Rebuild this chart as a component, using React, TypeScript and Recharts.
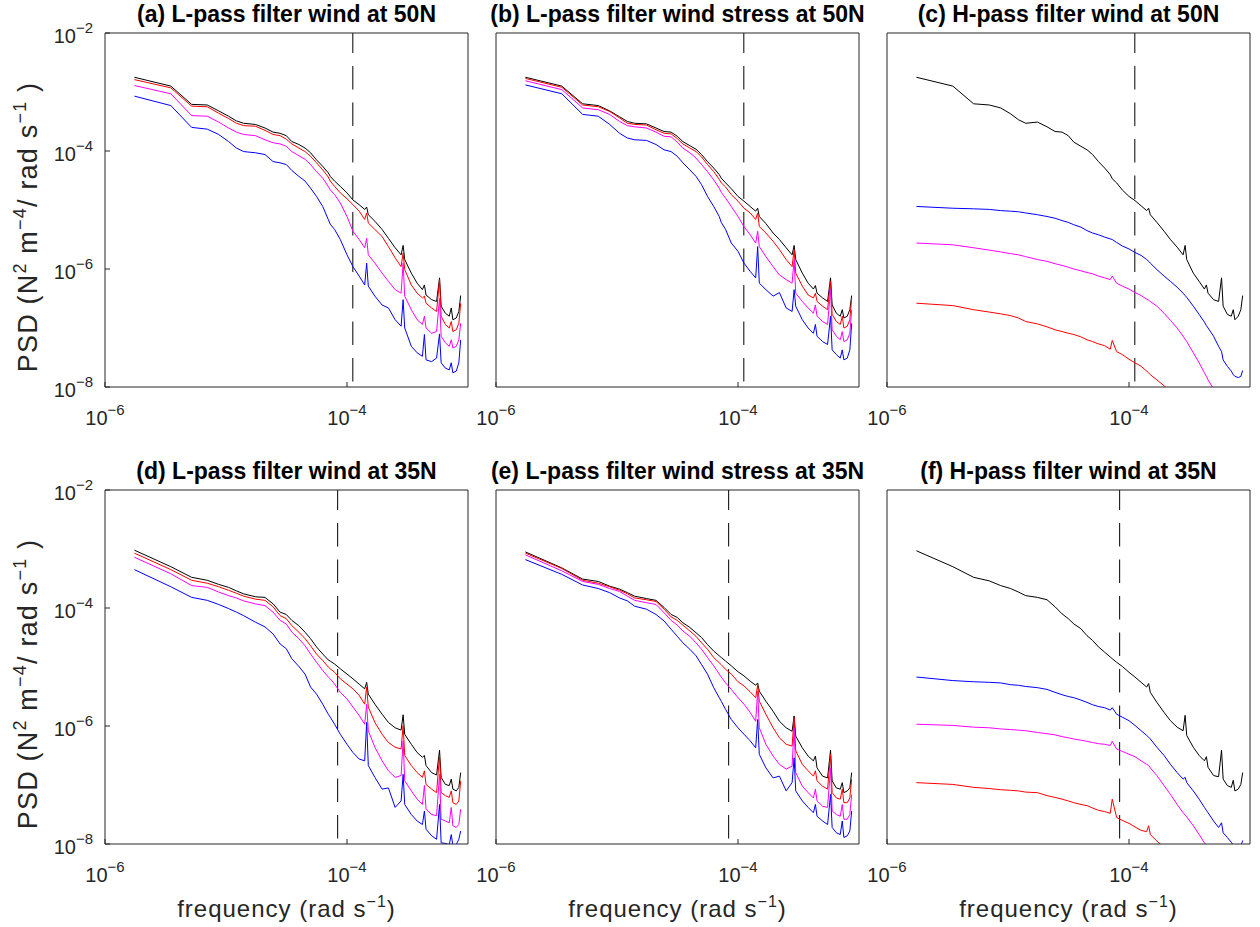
import React from "react";
import { LineChart, Line, XAxis, YAxis, ReferenceLine } from "recharts";

// frequency grid (rad s^-1) shared by every panel
const FREQ = [
  1.75e-6, 3.5e-6, 5.2e-6, 7e-6, 8.7e-6, 1.05e-5, 1.22e-5, 1.4e-5, 1.75e-5, 2.1e-5,
  2.45e-5, 2.8e-5, 3.15e-5, 3.5e-5, 4e-5, 4.5e-5, 5e-5, 5.6e-5, 6.3e-5, 7e-5,
  7.27e-5, 7.9e-5, 8.8e-5, 1e-4, 1.12e-4, 1.26e-4, 1.4e-4, 1.454e-4, 1.5e-4, 1.7e-4,
  1.95e-4, 2.2e-4, 2.5e-4, 2.8e-4, 2.909e-4, 3e-4, 3.4e-4, 3.8e-4, 4.2e-4, 4.363e-4,
  4.5e-4, 5e-4, 5.5e-4, 5.818e-4, 6e-4, 6.5e-4, 7e-4, 7.272e-4, 7.5e-4, 8e-4,
  8.4e-4, 8.7e-4,
];

// inertial frequency marks
const INERTIAL_50N = 1.117e-4;
const INERTIAL_35N = 8.37e-5;

// log10 of the PSD (null = below the plotted range)
const A_BLACK = [
  -2.75, -2.90, -3.21, -3.22, -3.32, -3.41, -3.49, -3.53, -3.55, -3.61,
  -3.68, -3.70, -3.74, -3.84, -3.89, -3.95, -4.03, -4.15, -4.26, -4.37,
  -4.43, -4.51, -4.60, -4.71, -4.83, -4.91, -4.99, -4.95, -5.08, -5.19,
  -5.33, -5.48, -5.64, -5.76, -5.60, -5.84, -6.07, -6.24, -6.35, -6.27,
  -6.44, -6.52, -6.55, -6.15, -6.63, -6.75, -6.80, -6.66, -6.86, -6.83,
  -6.72, -6.45,
];
const A_RED = [
  -2.79, -2.93, -3.24, -3.25, -3.36, -3.45, -3.53, -3.57, -3.58, -3.65,
  -3.72, -3.74, -3.80, -3.88, -3.95, -4.01, -4.09, -4.20, -4.32, -4.44,
  -4.51, -4.60, -4.71, -4.81, -4.91, -5.02, -5.16, -5.05, -5.22, -5.33,
  -5.45, -5.62, -5.81, -5.96, -5.73, -6.01, -6.27, -6.41, -6.49, -6.46,
  -6.58, -6.66, -6.72, -6.18, -6.80, -6.94, -7.00, -6.89, -7.06, -7.03,
  -6.92, -6.58,
];
const A_MAGENTA = [
  -2.89, -3.03, -3.40, -3.41, -3.51, -3.61, -3.68, -3.72, -3.74, -3.81,
  -3.86, -3.88, -3.92, -4.01, -4.08, -4.14, -4.23, -4.35, -4.46, -4.60,
  -4.66, -4.74, -4.88, -5.11, -5.36, -5.50, -5.64, -5.48, -5.76, -5.90,
  -6.07, -6.21, -6.35, -6.41, -5.90, -6.46, -6.69, -6.86, -6.94, -6.80,
  -7.00, -7.09, -7.06, -6.50, -7.14, -7.25, -7.31, -7.20, -7.34, -7.31,
  -7.20, -6.92,
];
const A_BLUE = [
  -3.07, -3.23, -3.60, -3.63, -3.72, -3.84, -3.95, -4.01, -4.03, -4.06,
  -4.18, -4.20, -4.23, -4.33, -4.43, -4.51, -4.63, -4.77, -4.94, -5.16,
  -5.24, -5.33, -5.50, -5.76, -5.96, -6.12, -6.27, -5.90, -6.29, -6.46,
  -6.61, -6.66, -6.86, -6.97, -6.52, -7.00, -7.31, -7.42, -7.48, -7.11,
  -7.54, -7.57, -7.51, -7.10, -7.59, -7.68, -7.71, -7.59, -7.76, -7.73,
  -7.59, -7.20,
];

const B_BLACK = [
  -2.75, -2.90, -3.20, -3.23, -3.32, -3.42, -3.50, -3.53, -3.54, -3.61,
  -3.67, -3.68, -3.75, -3.84, -3.91, -3.97, -4.06, -4.18, -4.29, -4.40,
  -4.46, -4.54, -4.64, -4.77, -4.85, -4.94, -5.02, -4.97, -5.11, -5.23,
  -5.39, -5.50, -5.64, -5.76, -5.60, -5.84, -6.07, -6.24, -6.34, -6.28,
  -6.41, -6.49, -6.55, -6.15, -6.61, -6.75, -6.80, -6.69, -6.83, -6.80,
  -6.69, -6.45,
];
const B_RED = [
  -2.77, -2.92, -3.22, -3.25, -3.33, -3.44, -3.53, -3.55, -3.56, -3.64,
  -3.70, -3.71, -3.79, -3.88, -3.95, -4.01, -4.10, -4.23, -4.35, -4.48,
  -4.54, -4.61, -4.74, -4.85, -4.97, -5.05, -5.16, -5.05, -5.28, -5.39,
  -5.53, -5.67, -5.84, -5.96, -5.67, -6.07, -6.29, -6.44, -6.49, -6.41,
  -6.55, -6.63, -6.69, -6.21, -6.77, -6.89, -6.94, -6.80, -7.00, -6.97,
  -6.86, -6.49,
];
const B_MAGENTA = [
  -2.81, -2.96, -3.27, -3.30, -3.38, -3.50, -3.57, -3.59, -3.61, -3.68,
  -3.75, -3.76, -3.85, -3.95, -4.03, -4.12, -4.23, -4.35, -4.49, -4.63,
  -4.70, -4.80, -4.94, -5.11, -5.28, -5.42, -5.56, -5.36, -5.62, -5.79,
  -5.96, -6.10, -6.18, -6.24, -5.84, -6.41, -6.55, -6.66, -6.75, -6.61,
  -6.80, -6.89, -6.94, -6.35, -7.03, -7.14, -7.20, -7.06, -7.23, -7.20,
  -7.09, -6.69,
];
const B_BLUE = [
  -2.88, -3.03, -3.38, -3.41, -3.55, -3.70, -3.78, -3.81, -3.82, -3.89,
  -3.98, -4.01, -4.09, -4.20, -4.32, -4.43, -4.57, -4.77, -4.94, -5.11,
  -5.21, -5.33, -5.56, -5.70, -5.90, -6.04, -6.15, -5.62, -6.24, -6.35,
  -6.46, -6.40, -6.66, -6.72, -6.35, -6.63, -6.86, -7.00, -7.09, -6.94,
  -7.14, -7.23, -7.28, -6.80, -7.37, -7.45, -7.51, -7.37, -7.54, -7.51,
  -7.37, -6.92,
];

const C_BLACK = [
  -2.75, -2.90, -3.20, -3.22, -3.27, -3.37, -3.47, -3.53, -3.51, -3.59,
  -3.67, -3.68, -3.74, -3.85, -3.92, -3.98, -4.06, -4.18, -4.29, -4.40,
  -4.47, -4.54, -4.66, -4.77, -4.84, -4.93, -5.01, -4.97, -5.08, -5.21,
  -5.36, -5.50, -5.63, -5.76, -5.60, -5.84, -6.07, -6.21, -6.34, -6.27,
  -6.41, -6.52, -6.55, -6.15, -6.63, -6.77, -6.80, -6.69, -6.86, -6.80,
  -6.69, -6.45,
];
const C_RED = [
  -6.58, -6.62, -6.69, -6.73, -6.76, -6.79, -6.83, -6.89, -6.93, -6.98,
  -7.03, -7.06, -7.09, -7.11, -7.15, -7.20, -7.23, -7.27, -7.30, -7.36,
  -7.21, -7.40, -7.45, -7.53, -7.59, -7.65, -7.73, -7.76, -7.79, -7.88,
  -7.98, -8.07, null, null, null, null, null, null, null, null,
  null, null, null, null, null, null, null, null, null, null,
  null, null,
];
const C_MAGENTA = [
  -5.56, -5.59, -5.64, -5.68, -5.71, -5.74, -5.76, -5.79, -5.84, -5.87,
  -5.91, -5.94, -5.97, -6.00, -6.03, -6.06, -6.08, -6.12, -6.15, -6.18,
  -6.12, -6.24, -6.29, -6.34, -6.40, -6.45, -6.51, -6.53, -6.55, -6.63,
  -6.75, -6.87, -7.00, -7.14, -7.19, -7.23, -7.42, -7.59, -7.76, -7.82,
  -7.88, -8.03, null, null, null, null, null, null, null, null,
  null, null,
];
const C_BLUE = [
  -4.94, -4.97, -4.98, -4.99, -5.01, -5.02, -5.03, -5.05, -5.08, -5.11,
  -5.14, -5.18, -5.21, -5.25, -5.29, -5.35, -5.39, -5.42, -5.46, -5.49,
  -5.50, -5.55, -5.61, -5.66, -5.72, -5.77, -5.84, -5.87, -5.90, -6.01,
  -6.12, -6.21, -6.31, -6.41, -6.45, -6.48, -6.63, -6.77, -6.90, -6.96,
  -7.00, -7.14, -7.31, -7.40, -7.54, -7.65, -7.73, -7.79, -7.82, -7.84,
  -7.82, -7.72,
];

const D_BLACK = [
  -3.02, -3.30, -3.48, -3.53, -3.60, -3.65, -3.71, -3.76, -3.81, -3.82,
  -3.93, -4.07, -4.11, -4.21, -4.30, -4.41, -4.52, -4.66, -4.78, -4.88,
  -4.90, -4.95, -5.03, -5.12, -5.20, -5.29, -5.37, -5.26, -5.46, -5.63,
  -5.80, -5.94, -6.03, -6.07, -5.81, -6.14, -6.31, -6.45, -6.53, -6.50,
  -6.67, -6.79, -6.83, -6.41, -6.87, -6.99, -7.01, -6.90, -7.07, -7.10,
  -7.04, -6.79,
];
const D_RED = [
  -3.07, -3.35, -3.53, -3.58, -3.64, -3.70, -3.75, -3.80, -3.85, -3.87,
  -3.98, -4.13, -4.18, -4.30, -4.41, -4.52, -4.64, -4.78, -4.89, -5.00,
  -5.03, -5.09, -5.20, -5.29, -5.37, -5.48, -5.63, -5.34, -5.68, -5.94,
  -6.14, -6.28, -6.36, -6.39, -5.99, -6.50, -6.67, -6.79, -6.87, -6.76,
  -6.99, -7.07, -7.13, -6.50, -7.13, -7.18, -7.21, -7.10, -7.30, -7.33,
  -7.27, -6.93,
];
const D_MAGENTA = [
  -3.14, -3.42, -3.62, -3.65, -3.73, -3.79, -3.83, -3.88, -3.93, -3.96,
  -4.07, -4.21, -4.27, -4.41, -4.52, -4.64, -4.78, -4.92, -5.06, -5.17,
  -5.20, -5.29, -5.43, -5.54, -5.68, -5.82, -5.97, -5.63, -6.08, -6.36,
  -6.59, -6.76, -6.87, -6.84, -6.25, -6.93, -7.10, -7.24, -7.33, -7.01,
  -7.41, -7.50, -7.52, -6.82, -7.58, -7.61, -7.64, -7.38, -7.69, -7.72,
  -7.67, -7.41,
];
const D_BLUE = [
  -3.35, -3.64, -3.82, -3.87, -3.94, -4.01, -4.07, -4.13, -4.24, -4.32,
  -4.44, -4.61, -4.69, -4.86, -4.99, -5.12, -5.34, -5.46, -5.63, -5.80,
  -5.85, -5.97, -6.14, -6.31, -6.45, -6.56, -6.59, -5.94, -6.67, -6.87,
  -7.07, -7.05, -7.38, -7.27, -6.82, -7.33, -7.50, -7.61, -7.67, -7.44,
  -7.75, -7.86, -7.92, -7.33, -7.98, -7.99, -8.01, -7.84, -8.02, -8.01,
  -7.92, -7.78,
];

const E_BLACK = [
  -3.05, -3.32, -3.51, -3.55, -3.63, -3.68, -3.74, -3.80, -3.84, -3.87,
  -3.99, -4.11, -4.16, -4.25, -4.33, -4.42, -4.50, -4.62, -4.73, -4.81,
  -4.84, -4.90, -4.98, -5.08, -5.15, -5.24, -5.31, -5.27, -5.41, -5.58,
  -5.75, -5.92, -6.03, -6.09, -5.83, -6.17, -6.37, -6.51, -6.59, -6.51,
  -6.71, -6.85, -6.88, -6.41, -6.93, -7.05, -7.07, -6.96, -7.13, -7.10,
  -7.05, -6.79,
];
const E_RED = [
  -3.07, -3.33, -3.53, -3.58, -3.64, -3.70, -3.76, -3.83, -3.86, -3.89,
  -4.02, -4.15, -4.21, -4.29, -4.39, -4.48, -4.59, -4.70, -4.84, -4.93,
  -4.96, -5.04, -5.12, -5.25, -5.32, -5.42, -5.52, -5.31, -5.58, -5.80,
  -6.03, -6.20, -6.31, -6.34, -5.86, -6.42, -6.65, -6.76, -6.85, -6.76,
  -6.93, -7.02, -7.07, -6.48, -7.13, -7.22, -7.24, -7.07, -7.30, -7.30,
  -7.22, -6.90,
];
const E_MAGENTA = [
  -3.10, -3.37, -3.55, -3.60, -3.67, -3.72, -3.80, -3.87, -3.91, -3.94,
  -4.08, -4.21, -4.29, -4.39, -4.48, -4.59, -4.70, -4.84, -4.98, -5.12,
  -5.17, -5.27, -5.38, -5.52, -5.63, -5.77, -5.92, -5.41, -6.03, -6.31,
  -6.51, -6.65, -6.73, -6.68, -6.03, -6.79, -7.02, -7.13, -7.22, -7.07,
  -7.27, -7.36, -7.38, -6.71, -7.44, -7.50, -7.53, -7.33, -7.58, -7.58,
  -7.50, -7.16,
];
const E_BLUE = [
  -3.18, -3.43, -3.61, -3.67, -3.74, -3.83, -3.88, -3.97, -4.02, -4.11,
  -4.22, -4.36, -4.48, -4.59, -4.70, -4.81, -4.96, -5.12, -5.35, -5.52,
  -5.58, -5.72, -5.89, -6.03, -6.14, -6.25, -6.37, -5.89, -6.48, -6.71,
  -6.88, -6.85, -7.10, -6.96, -6.54, -7.10, -7.27, -7.38, -7.47, -7.33,
  -7.53, -7.61, -7.67, -7.16, -7.72, -7.81, -7.84, -7.61, -7.89, -7.86,
  -7.78, -7.44,
];

const F_BLACK = [
  -3.03, -3.30, -3.48, -3.54, -3.62, -3.67, -3.73, -3.79, -3.82, -3.86,
  -3.98, -4.10, -4.18, -4.27, -4.35, -4.47, -4.55, -4.66, -4.75, -4.83,
  -4.86, -4.92, -4.99, -5.09, -5.17, -5.26, -5.34, -5.28, -5.43, -5.60,
  -5.77, -5.91, -6.02, -6.08, -5.82, -6.16, -6.36, -6.50, -6.59, -6.52,
  -6.70, -6.84, -6.86, -6.41, -6.90, -7.01, -7.04, -6.92, -7.10, -7.07,
  -6.99, -6.79,
];
const F_RED = [
  -6.96, -6.99, -7.04, -7.06, -7.08, -7.09, -7.10, -7.12, -7.13, -7.18,
  -7.21, -7.24, -7.27, -7.30, -7.33, -7.35, -7.39, -7.43, -7.45, -7.48,
  -7.24, -7.55, -7.60, -7.65, -7.71, -7.77, -7.79, -7.69, -7.84, -7.95,
  -8.06, null, null, null, null, null, null, null, null, null,
  null, null, null, null, null, null, null, null, null, null,
  null, null,
];
const F_MAGENTA = [
  -5.97, -5.99, -6.02, -6.03, -6.05, -6.06, -6.07, -6.08, -6.11, -6.13,
  -6.15, -6.18, -6.20, -6.22, -6.24, -6.26, -6.28, -6.30, -6.31, -6.33,
  -6.26, -6.39, -6.43, -6.48, -6.52, -6.59, -6.65, -6.67, -6.71, -6.84,
  -7.01, -7.16, -7.33, -7.47, -7.51, -7.54, -7.69, -7.84, -7.98, -8.03,
  null, null, null, null, null, null, null, null, null, null,
  null, null,
];
const F_BLUE = [
  -5.17, -5.23, -5.25, -5.26, -5.27, -5.30, -5.31, -5.33, -5.35, -5.38,
  -5.43, -5.47, -5.50, -5.52, -5.56, -5.60, -5.64, -5.67, -5.69, -5.73,
  -5.69, -5.80, -5.85, -5.91, -5.99, -6.08, -6.16, -6.19, -6.22, -6.36,
  -6.50, -6.65, -6.79, -6.90, -6.87, -6.96, -7.10, -7.24, -7.38, -7.43,
  -7.47, -7.61, -7.72, -7.64, -7.81, -7.89, -7.97, -8.02, -8.05, -8.08,
  -8.04, -7.94,
];

const X_TICKS = [1e-6, 1e-4];
const Y_TICKS = [1e-8, 1e-6, 1e-4, 1e-2];

const FONT = '"Liberation Sans", Arial, Helvetica, sans-serif';
const AXIS = "#262626";
const MINUS = "\u2212";
const PLOT_W = 363;
const PLOT_H = 354;
const COL_X = [105, 496, 887];
const ROW_Y = [33, 490];

const toPsd = (v: number | null) => (v == null ? null : Math.pow(10, v));

const buildRows = (black: any[], red: any[], magenta: any[], blue: any[]) =>
  FREQ.map((f, i) => ({
    f,
    black: toPsd(black[i]),
    red: toPsd(red[i]),
    magenta: toPsd(magenta[i]),
    blue: toPsd(blue[i]),
  }));

const PANELS = [
  { title: "(a) L-pass filter wind at 50N", col: 0, row: 0, inertial: INERTIAL_50N, data: buildRows(A_BLACK, A_RED, A_MAGENTA, A_BLUE) },
  { title: "(b) L-pass filter wind stress at 50N", col: 1, row: 0, inertial: INERTIAL_50N, data: buildRows(B_BLACK, B_RED, B_MAGENTA, B_BLUE) },
  { title: "(c) H-pass filter wind at 50N", col: 2, row: 0, inertial: INERTIAL_50N, data: buildRows(C_BLACK, C_RED, C_MAGENTA, C_BLUE) },
  { title: "(d) L-pass filter wind at 35N", col: 0, row: 1, inertial: INERTIAL_35N, data: buildRows(D_BLACK, D_RED, D_MAGENTA, D_BLUE) },
  { title: "(e) L-pass filter wind stress at 35N", col: 1, row: 1, inertial: INERTIAL_35N, data: buildRows(E_BLACK, E_RED, E_MAGENTA, E_BLUE) },
  { title: "(f) H-pass filter wind at 35N", col: 2, row: 1, inertial: INERTIAL_35N, data: buildRows(F_BLACK, F_RED, F_MAGENTA, F_BLUE) },
];

const SERIES = [
  { key: "black", color: "#000000" },
  { key: "red", color: "#ff0000" },
  { key: "magenta", color: "#ff00ff" },
  { key: "blue", color: "#0000ff" },
];

const exponent = (v: number) => {
  const e = Math.round(Math.log10(v));
  return e < 0 ? MINUS + Math.abs(e) : String(e);
};

// "10" with a superscript exponent
const YTick = ({ x, y, payload }: any) => (
  <text x={x} y={y + 10} textAnchor="end" fontFamily={FONT} fontSize={20} fill={AXIS}>
    10
    <tspan dy={-10} fontSize={15}>
      {exponent(payload.value)}
    </tspan>
  </text>
);

const XTick = ({ x, y, payload }: any) => (
  <text x={x} y={y + 17} textAnchor="middle" fontFamily={FONT} fontSize={20} fill={AXIS}>
    10
    <tspan dy={-10} fontSize={15}>
      {exponent(payload.value)}
    </tspan>
  </text>
);

function Panel({ panel }: any) {
  const left = COL_X[panel.col];
  const top = ROW_Y[panel.row];
  return (
    <div style={{ position: "absolute", left: left - 100, top: top - 30 }}>
      <LineChart
        width={PLOT_W + 110}
        height={PLOT_H + 90}
        data={panel.data}
        margin={{ top: 30, right: 10, bottom: 0, left: 0 }}
      >
        <XAxis
          xAxisId="x"
          dataKey="f"
          type="number"
          scale="log"
          domain={[1e-6, 1e-3]}
          allowDataOverflow
          ticks={X_TICKS}
          interval={0}
          height={60}
          tickSize={-5}
          tickMargin={26}
          tick={<XTick />}
          stroke={AXIS}
        />
        <XAxis
          xAxisId="xt"
          orientation="top"
          mirror
          dataKey="f"
          type="number"
          scale="log"
          domain={[1e-6, 1e-3]}
          allowDataOverflow
          ticks={X_TICKS}
          interval={0}
          tickSize={5}
          tick={false}
          stroke={AXIS}
        />
        <YAxis
          yAxisId="y"
          type="number"
          scale="log"
          domain={[1e-8, 1e-2]}
          allowDataOverflow
          ticks={Y_TICKS}
          interval={0}
          width={100}
          tickSize={-5}
          tickMargin={17}
          tick={panel.col === 0 ? <YTick /> : false}
          stroke={AXIS}
        />
        <YAxis
          yAxisId="yr"
          orientation="right"
          mirror
          type="number"
          scale="log"
          domain={[1e-8, 1e-2]}
          allowDataOverflow
          ticks={Y_TICKS}
          interval={0}
          tickSize={5}
          tick={false}
          stroke={AXIS}
        />
        <Line
          xAxisId="xt"
          yAxisId="yr"
          dataKey="black"
          stroke="none"
          dot={false}
          activeDot={false}
          isAnimationActive={false}
        />
        <ReferenceLine
          xAxisId="x"
          yAxisId="y"
          x={panel.inertial}
          stroke="#000000"
          strokeWidth={1}
          strokeDasharray="23.5 13"
          strokeDashoffset={31}
        />
        {SERIES.map((s) => (
          <Line
            key={s.key}
            xAxisId="x"
            yAxisId="y"
            type="linear"
            dataKey={s.key}
            stroke={s.color}
            strokeWidth={1}
            dot={false}
            activeDot={false}
            isAnimationActive={false}
          />
        ))}
      </LineChart>
    </div>
  );
}

export default function App() {
  return (
    <div
      style={{
        position: "absolute",
        left: 0,
        top: 0,
        width: 1260,
        height: 927,
        background: "#ffffff",
        overflow: "hidden",
      }}
    >
      {PANELS.map((p) => (
        <Panel key={p.title} panel={p} />
      ))}
      <svg
        width={1260}
        height={927}
        style={{ position: "absolute", left: 0, top: 0, pointerEvents: "none" }}
        fontFamily={FONT}
      >
        {PANELS.map((p) => (
          <text
            key={p.title}
            x={COL_X[p.col] + PLOT_W / 2}
            y={ROW_Y[p.row] - 11}
            textAnchor="middle"
            fontSize={23}
            fontWeight="bold"
            fill="#000000"
          >
            {p.title}
          </text>
        ))}
        {ROW_Y.map((t) => (
          <text
            key={t}
            x={37}
            y={t + 194}
            transform={`rotate(-90 37 ${t + 194})`}
            textAnchor="middle"
            fontSize={27}
            letterSpacing={1.2}
            fill={AXIS}
          >
            PSD (N<tspan dy={-11} fontSize={18}>2</tspan>
            <tspan dy={11}> m</tspan>
            <tspan dy={-11} fontSize={18}>{MINUS}4</tspan>
            <tspan dy={11}>/ rad s</tspan>
            <tspan dy={-11} fontSize={18}>{MINUS}1</tspan>
            <tspan dy={11}> )</tspan>
          </text>
        ))}
        {COL_X.map((l) => (
          <text
            key={l}
            x={l + PLOT_W / 2}
            y={917}
            textAnchor="middle"
            fontSize={24}
            letterSpacing={1}
            fill={AXIS}
          >
            frequency (rad s<tspan dy={-10} fontSize={16}>{MINUS}1</tspan>
            <tspan dy={10}>)</tspan>
          </text>
        ))}
      </svg>
    </div>
  );
}
